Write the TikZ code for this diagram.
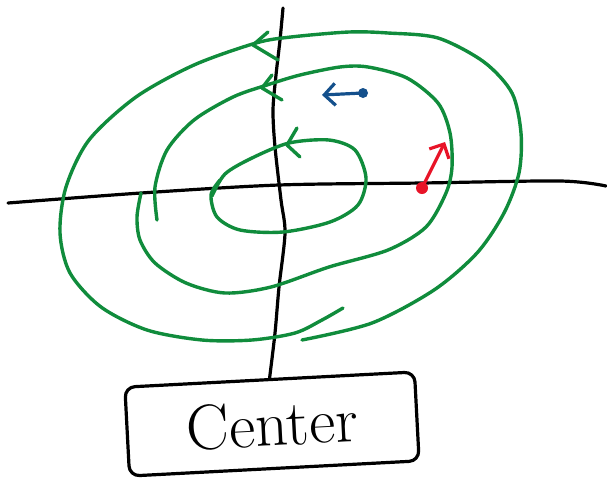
\documentclass[tikz,border=0pt]{standalone}
\usetikzlibrary{arrows.meta,positioning}
\definecolor{orbitgreen}{RGB}{16,140,60}
\definecolor{dotblue}{RGB}{20,80,140}
\definecolor{dotred}{RGB}{232,20,40}
\begin{document}
\begin{tikzpicture}[x=1pt,y=-1pt,line cap=round,line join=round,
  axisline/.style={line width=3.2pt,black},
  orbit/.style={line width=3.4pt,orbitgreen},
  blob/.style={circle,inner sep=0pt,minimum size=#1},
  kick/.style={line width=3.2pt,-{Straight Barb[length=11pt,width=22pt,line width=3.2pt]}}]
\useasboundingbox (0,0) rectangle (607,483);

\node[draw,line width=3.2pt,rounded corners=10pt,rotate=3,minimum width=290pt,minimum height=89pt,font=\fontsize{64}{64}\selectfont] (center) at (272,424) {Center};

% axes
\coordinate (xleft) at (8,203);
\coordinate (xright) at (606,186);
\coordinate (ytop) at (283,8);
\draw[axisline] plot[smooth] coordinates {(xleft) (141,193) (279,185) (422,183) (560,181) (xright)};
\draw[axisline] plot[smooth] coordinates {(center.north) (275,333) (279,287) (285,233) (281,200) (275,147) (273,110) (276,75) (280,40) (ytop)};

% spiral
\draw[orbit] plot[smooth] coordinates {(212,196) (225,174) (252,158) (289,143) (329,140) (355,150) (366,178) (358,205) (330,222) (283,232) (240,230) (217,217) (211,195) (220,180)};
\draw[orbit] plot[smooth] coordinates {(157,220) (155,187) (167,150) (194,120) (233,97) (267,85) (300,75) (340,67) (368,67) (407,78) (438,103) (450,133) (452,167) (446,193) (426,227) (388,250) (329,267) (271,287) (225,293) (186,283) (155,263) (140,240) (137,217) (141,193)};
\draw[orbit] plot[smooth] coordinates {(343,308) (322,320) (295,333) (252,340) (202,340) (147,330) (101,307) (70,273) (60,233) (66,187) (89,140) (136,97) (194,65) (256,43) (291,37) (349,32) (388,33) (438,38) (484,62) (512,93) (521,133) (519,173) (504,213) (477,253) (434,290) (372,323) (302,340)};
\draw[orbit] (268,32) -- (253,45) -- (278,60);
\draw[orbit] (272,75) -- (262,88) -- (282,100);
\draw[orbit] (297,128) -- (287,145) -- (300,157);

% velocities
\node[blob=10pt,fill=dotblue] (bluedot) at (363,93) {};
\coordinate (bluetip) at (322,95);
\draw[kick,dotblue] (bluedot.center) -- (bluetip);
\node[blob=12pt,fill=dotred] (reddot) at (422,188) {};
\coordinate (redtip) at (445,142);
\draw[kick,dotred] (reddot.center) -- (redtip);
\end{tikzpicture}
\end{document}
